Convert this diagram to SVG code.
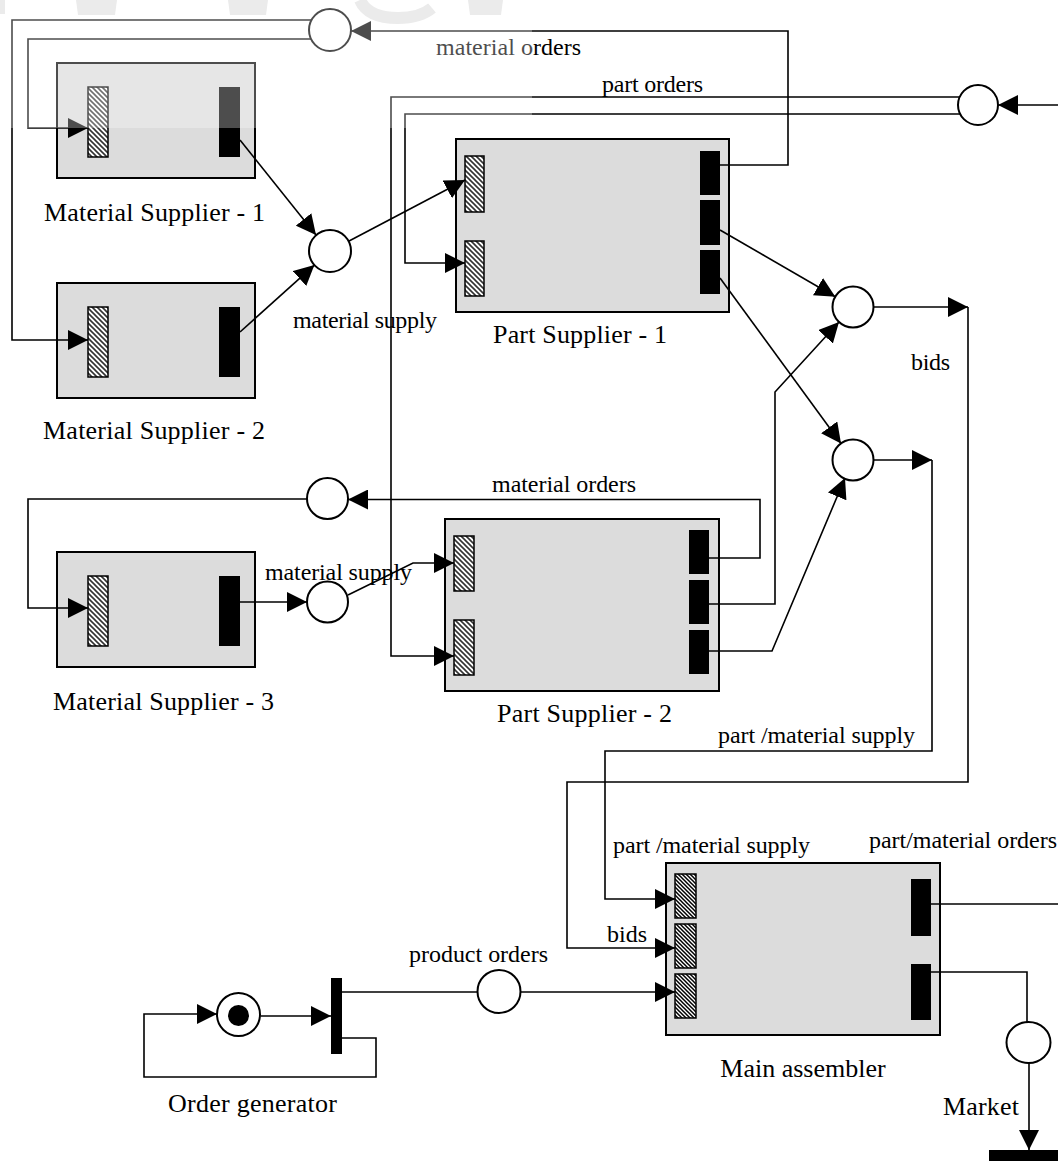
<svg xmlns="http://www.w3.org/2000/svg" width="1058" height="1161" viewBox="0 0 1058 1161">
<defs>
<style>
.box{fill:#dcdcdc;stroke:#000;stroke-width:2}
.hat{fill:url(#hatch);stroke:#000;stroke-width:1.5}
.hat2{fill:url(#hatch2);stroke:#000;stroke-width:1.5}
.bar{fill:#000}
.pl{fill:#fff;stroke:#000;stroke-width:2}
.cn{fill:none;stroke:#000;stroke-width:1.6}
.arr{marker-end:url(#ah)}
.t{font-family:"Liberation Serif","Times New Roman",serif;fill:#000}
.s{font-size:24px}
.b{font-size:26px}
.wm{fill:#ebebeb}
</style>
<pattern id="hatch" patternUnits="userSpaceOnUse" width="5" height="5">
<rect width="5" height="5" fill="#fff"/>
<path d="M-1,-1 L6,6 M-1,4 L1,6 M4,-1 L6,1" stroke="#333" stroke-width="1.6"/>
</pattern>
<pattern id="hatch2" patternUnits="userSpaceOnUse" width="4" height="4">
<rect width="4" height="4" fill="#fff"/>
<path d="M-1,-1 L5,5 M-1,3 L1,5 M3,-1 L5,1" stroke="#000" stroke-width="1.5"/>
</pattern>
<marker id="ah" markerUnits="userSpaceOnUse" markerWidth="20" markerHeight="20" refX="20" refY="10" orient="auto">
<path d="M0,0 L20,10 L0,20 z" fill="#000"/>
</marker>
</defs>
<rect width="1058" height="1161" fill="#fff"/>

<g id="ms1">
<rect class="box" x="57" y="63" width="198" height="115"/>
<rect class="hat" x="88" y="87" width="20" height="70"/>
<rect class="bar" x="219" y="87" width="21" height="70"/>
<text class="t b" x="44" y="221" textLength="221">Material Supplier - 1</text>
</g>
<g id="ms2">
<rect class="box" x="57" y="283" width="198" height="115"/>
<rect class="hat" x="88" y="307" width="20" height="70"/>
<rect class="bar" x="219" y="307" width="21" height="70"/>
<text class="t b" x="43" y="439" textLength="222">Material Supplier - 2</text>
</g>
<g id="ms3">
<rect class="box" x="57" y="552" width="198" height="115"/>
<rect class="hat" x="88" y="576" width="20" height="70"/>
<rect class="bar" x="219" y="576" width="21" height="70"/>
<text class="t b" x="53" y="710" textLength="221">Material Supplier - 3</text>
</g>
<g id="ps1">
<rect class="box" x="456" y="139" width="273" height="173"/>
<rect class="hat" x="465" y="156" width="19" height="56"/>
<rect class="hat" x="465" y="241" width="19" height="55"/>
<rect class="bar" x="700" y="151" width="20" height="44"/>
<rect class="bar" x="700" y="200" width="20" height="45"/>
<rect class="bar" x="700" y="250" width="20" height="44"/>
<text class="t b" x="493" y="343" textLength="174">Part Supplier - 1</text>
</g>
<g id="ps2">
<rect class="box" x="445" y="519" width="274" height="172"/>
<rect class="hat" x="454" y="536" width="20" height="55"/>
<rect class="hat" x="454" y="620" width="20" height="55"/>
<rect class="bar" x="689" y="530" width="20" height="44"/>
<rect class="bar" x="689" y="580" width="20" height="44"/>
<rect class="bar" x="689" y="630" width="20" height="44"/>
<text class="t b" x="497" y="722" textLength="175">Part Supplier - 2</text>
</g>
<g id="assembler">
<rect class="box" x="666" y="863" width="274" height="172"/>
<rect class="hat2" x="675" y="874" width="21" height="44"/>
<rect class="hat2" x="675" y="924" width="21" height="44"/>
<rect class="hat2" x="675" y="974" width="21" height="44"/>
<rect class="bar" x="911" y="879" width="20" height="57"/>
<rect class="bar" x="911" y="964" width="20" height="56"/>
<text class="t b" x="803" y="1077" text-anchor="middle">Main assembler</text>
</g>
<g id="order-generator">
<circle class="pl" cx="238.5" cy="1014.5" r="21.5"/>
<circle cx="238.5" cy="1015.5" r="10.5" fill="#000"/>
<rect class="bar" x="331" y="978" width="11" height="76"/>
<text class="t b" x="168" y="1112" textLength="169">Order generator</text>
</g>
<g id="market">
<ellipse class="pl" cx="1028.5" cy="1042.5" rx="22" ry="20.5"/>
<rect class="bar" x="989" y="1150" width="69" height="11"/>
<text class="t b" x="943" y="1115" textLength="76">Market</text>
</g>
<g id="places">
<circle id="p-mat-orders-1" class="pl" cx="330" cy="30" r="21"/>
<circle id="p-part-orders" class="pl" cx="978" cy="105" r="20"/>
<circle id="p-mat-supply-1" class="pl" cx="330" cy="251" r="21"/>
<circle id="p-bids-1" class="pl" cx="853" cy="307" r="20.5"/>
<circle id="p-bids-2" class="pl" cx="853" cy="460" r="20.5"/>
<circle id="p-mat-orders-2" class="pl" cx="327.5" cy="498.5" r="20.5"/>
<circle id="p-mat-supply-2" class="pl" cx="327.5" cy="602" r="20.5"/>
<circle id="p-product-orders" class="pl" cx="499" cy="991.5" r="21.5"/>
</g>

<g id="connectors">
<path class="cn arr" d="M240,140 L316,235"/>
<path class="cn arr" d="M240,332 L314.4,265.1"/>
<path class="cn arr" d="M348.6,241.2 L465,180"/>
<path class="cn arr" d="M311.5,20 H12 V340 H88"/>
<path class="cn arr" d="M311,39 H28 V128 H88"/>
<path class="cn arr" d="M720,165 H788 V31 H351"/>
<path class="cn arr" d="M1058,105 H998"/>
<path class="cn arr" d="M959.7,97 H391 V656 H454"/>
<path class="cn arr" d="M960,114 H405 V263 H465"/>
<path class="cn arr" d="M720,230 L835.3,296.7"/>
<path class="cn arr" d="M720,278 L841,443.5"/>
<path class="cn arr" d="M709,558 H760 V499.5 H348"/>
<path class="cn arr" d="M709,604 H775 V392 L839,322"/>
<path class="cn arr" d="M709,651 H772 L845,478"/>
<path class="cn arr" d="M307,499 H28 V608 H88"/>
<path class="cn arr" d="M240,602 H307"/>
<path class="cn arr" d="M348,595 L413,563 H454"/>
<path class="cn arr" d="M873.5,307 H968"/>
<path class="cn arr" d="M968,307 V782 H567 V948 H675"/>
<path class="cn arr" d="M873.5,460 H932"/>
<path class="cn arr" d="M932,460 V751 H605 V899 H675"/>
<path class="cn" d="M342,992 H477.5"/>
<path class="cn arr" d="M520.5,992 H675"/>
<path class="cn arr" d="M261,1016 H331"/>
<path class="cn arr" d="M342,1038 H376 V1077 H144 V1014 H217"/>
<path class="cn" d="M931,904 H1058"/>
<path class="cn" d="M931,972 H1027 V1022"/>
<path class="cn arr" d="M1029,1063 V1150"/>
</g>

<g id="labels">
<text class="t s" x="436" y="55" textLength="145">material orders</text>
<text class="t s" x="602" y="92" textLength="101">part orders</text>
<text class="t s" x="293" y="328" textLength="144">material supply</text>
<text class="t s" x="911" y="370" textLength="39">bids</text>
<text class="t s" x="492" y="492" textLength="144">material orders</text>
<text class="t s" x="265" y="580" textLength="147">material supply</text>
<text class="t s" x="718" y="743" textLength="197">part /material supply</text>
<text class="t s" x="613" y="853" textLength="197">part /material supply</text>
<text class="t s" x="869" y="848" textLength="188">part/material orders</text>
<text class="t s" x="607" y="942" textLength="40">bids</text>
<text class="t s" x="409" y="962" textLength="139">product orders</text>
</g>

<rect x="0" y="0" width="532" height="128" fill="#fff" fill-opacity="0.3"/>
<g id="watermark">
<rect class="wm" x="0" y="0" width="5" height="14"/>
<path class="wm" d="M76,0 H117 L115,15 H78 z"/>
<path class="wm" d="M228,0 H268 L266,15 H230 z"/>
<path d="M360,0 Q368,18 398,18 Q420,18 432,8" fill="none" stroke="#ebebeb" stroke-width="12"/>
<path class="wm" d="M468,0 H503 L501,15 H470 z"/>
</g>
</svg>
